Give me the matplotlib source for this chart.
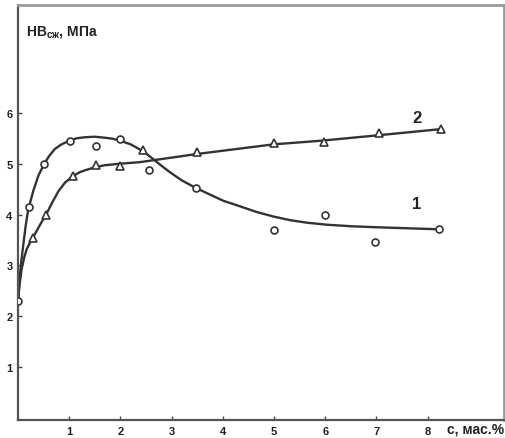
import matplotlib
matplotlib.use('Agg')
import matplotlib.pyplot as plt

plt.rcParams['font.family'] = ['Liberation Sans', 'DejaVu Sans']
plt.rcParams['mathtext.fontset'] = 'custom'
plt.rcParams['mathtext.rm'] = 'Liberation Sans'
plt.rcParams['mathtext.bf'] = 'Liberation Sans:bold'

# measured points, curve 1 (circles)
c1_x = [0.0, 0.22, 0.51, 1.02, 1.52, 2.0, 2.56, 3.48, 4.99, 6.0, 6.97, 8.22]
c1_y = [2.30, 4.15, 4.99, 5.45, 5.35, 5.48, 4.88, 4.53, 3.69, 3.99, 3.46, 3.71]
# measured points, curve 2 (triangles)
c2_x = [0.30, 0.55, 1.07, 1.52, 2.0, 2.45, 3.49, 4.99, 5.98, 7.05, 8.26]
c2_y = [3.53, 4.0, 4.75, 4.97, 4.96, 5.27, 5.22, 5.40, 5.42, 5.61, 5.68]

# fitted curves
f1_x = [0.0, 0.05, 0.10, 0.15, 0.20, 0.30, 0.40, 0.51, 0.60, 0.72, 0.85, 1.02,
        1.15, 1.31, 1.5, 1.70, 1.85, 2.0, 2.2, 2.45, 2.64, 2.8, 2.97, 3.2, 3.46,
        3.69, 4.01, 4.34, 4.66, 4.99, 5.31, 5.64, 6.03, 6.5, 7.0, 7.6, 8.22]
f1_y = [2.30, 2.95, 3.38, 3.78, 4.10, 4.47, 4.77, 4.99, 5.14, 5.29, 5.38, 5.46,
        5.50, 5.52, 5.53, 5.51, 5.49, 5.45, 5.38, 5.24, 5.09, 4.96, 4.83, 4.67, 4.53,
        4.42, 4.27, 4.16, 4.05, 3.96, 3.89, 3.84, 3.80, 3.77, 3.75, 3.73, 3.71]
f2_x = [0.0, 0.03, 0.07, 0.12, 0.17, 0.23, 0.30, 0.42, 0.56, 0.67, 0.79, 0.92,
        1.08, 1.2, 1.31, 1.5, 1.70, 2.0, 2.38, 3.49, 4.99, 5.9, 7.05, 8.26]
f2_y = [2.30, 2.62, 2.92, 3.15, 3.32, 3.44, 3.56, 3.78, 4.02, 4.24, 4.46, 4.63,
        4.76, 4.83, 4.87, 4.93, 4.97, 5.0, 5.03, 5.19, 5.38, 5.45, 5.56, 5.68]

x_ticks = [1, 2, 3, 4, 5, 6, 7, 8]
y_ticks = [1, 2, 3, 4, 5, 6]

line_col = '#333333'

fig = plt.figure(figsize=(5.06, 4.39), dpi=100)
ax = fig.add_axes([18/506, 18/439, 486/506, 415/439])

ax.plot(f1_x, f1_y, '-', color=line_col, linewidth=1.7, zorder=2,
        solid_joinstyle='round')
ax.plot(f2_x, f2_y, '-', color=line_col, linewidth=1.7, zorder=2,
        solid_joinstyle='round')
ax.plot(c1_x, c1_y, 'o', markersize=5, markerfacecolor='white',
        markeredgecolor=line_col, markeredgewidth=1.2, linestyle='none', zorder=3)
ax.plot(c2_x, c2_y, '^', markersize=5.5, markerfacecolor='white',
        markeredgecolor=line_col, markeredgewidth=1.2, linestyle='none', zorder=3)

ax.text(7.79, 5.91, '2', fontsize=12, fontweight='bold', ha='center', va='center',
        color='#222222')
ax.text(7.79, 4.22, '1', fontsize=12, fontweight='bold', ha='center', va='center',
        color='#222222')

ax.set_xlim(0, 9.49)
ax.set_ylim(-0.04, 8.12)
ax.set_xticks(x_ticks)
ax.set_yticks(y_ticks)
ax.tick_params(direction='in', length=3, width=1, colors='#444444', labelsize=8,
               labelcolor='#222222', pad=4)
for lab in ax.get_xticklabels() + ax.get_yticklabels():
    lab.set_fontweight('bold')

for side in ['left', 'bottom']:
    ax.spines[side].set_linewidth(1.6)
    ax.spines[side].set_color('#555555')
for side in ['top', 'right']:
    ax.spines[side].set_linewidth(2.0)
    ax.spines[side].set_color('#9a9a9a')

ax.text(0.15, 7.6, r'HB$_{\mathbf{сж}}$, МПа', fontsize=10, fontweight='bold',
        ha='left', va='center', color='#222222')
fig.text(504/506, (439-430)/439, 'c, мас.%', fontsize=10, fontweight='bold',
         ha='right', va='center', color='#222222')

fig.savefig('out.png', dpi=100)
